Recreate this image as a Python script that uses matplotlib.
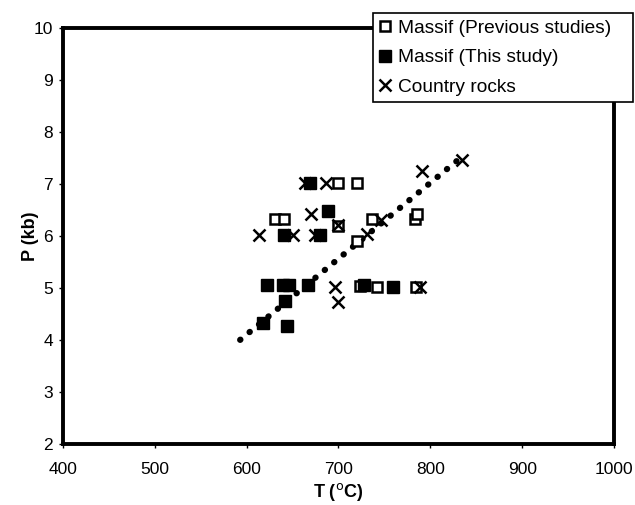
import matplotlib.pyplot as plt
from matplotlib.lines import Line2D

plt.rcParams['font.family'] = ['Liberation Sans', 'DejaVu Sans']

# Massif (previous studies) - open squares
prev_t = [631, 641, 700, 720, 700, 737, 720, 783, 785, 723, 742, 784]
prev_p = [6.32, 6.32, 7.02, 7.02, 6.18, 6.32, 5.9, 6.33, 6.42, 5.03, 5.02, 5.02]

# Massif (this study) - filled squares
this_t = [669, 689, 641, 680, 622, 640, 646, 667, 728, 759, 642, 618, 644]
this_p = [7.02, 6.47, 6.02, 6.02, 5.05, 5.05, 5.05, 5.05, 5.05, 5.02, 4.75, 4.33, 4.27]

# Country rocks - crosses
rock_t = [664, 686, 670, 700, 614, 650, 675, 746, 731, 696, 700, 789, 791, 834]
rock_p = [7.02, 7.02, 6.42, 6.2, 6.02, 6.02, 6.02, 6.3, 6.03, 5.02, 4.72, 5.02, 7.25, 7.45]

# dotted trend line
trend_t = [593, 833]
trend_p = [4.0, 7.5]

x_ticks = [400, 500, 600, 700, 800, 900, 1000]
y_ticks = [2, 3, 4, 5, 6, 7, 8, 9, 10]

fig = plt.figure(figsize=(6.35, 5.05), dpi=100)
ax = fig.add_axes([0.099, 0.121, 0.868, 0.824])

ax.plot(trend_t, trend_p, color='black', linewidth=4.5,
        linestyle=(0, (0.05, 1.9)), dash_capstyle='round', zorder=2)
ax.plot(prev_t, prev_p, 's', linestyle='None', markersize=7.8,
        markerfacecolor='white', markeredgecolor='black', markeredgewidth=1.8, zorder=3)
ax.plot(this_t, this_p, 's', linestyle='None', markersize=8.3,
        markerfacecolor='black', markeredgecolor='black', zorder=4)
ax.plot(rock_t, rock_p, 'x', linestyle='None', markersize=9,
        color='black', markeredgewidth=1.8, zorder=5)

ax.set_xlim(400, 1000)
ax.set_ylim(2, 10)
ax.set_xticks(x_ticks)
ax.set_yticks(y_ticks)
ax.tick_params(labelsize=12.5, length=3, width=1, direction='out')
ax.tick_params(axis='x', pad=10)
ax.tick_params(axis='y', pad=4)
for s in ax.spines.values():
    s.set_linewidth(2.8)

ax.set_xlabel('T ($^{\\mathrm{o}}$C)', fontsize=13, fontweight='bold', labelpad=3)
ax.set_ylabel('P (kb)', fontsize=13, fontweight='bold', labelpad=-4)

handles = [
    Line2D([], [], marker='s', linestyle='None', markersize=7.5, markerfacecolor='white',
           markeredgecolor='black', markeredgewidth=1.8),
    Line2D([], [], marker='s', linestyle='None', markersize=8.5, color='black'),
    Line2D([], [], marker='x', linestyle='None', markersize=8.5, color='black', markeredgewidth=1.8),
]
labels = ['Massif (Previous studies)', 'Massif (This study)', 'Country rocks']
leg = fig.legend(handles, labels, loc='upper left', mode='expand',
                 bbox_to_anchor=(373 / 635, 1 - 97 / 505, 260 / 635, 84 / 505),
                 fontsize=13.8, frameon=True, fancybox=False, framealpha=1,
                 edgecolor='black', handlelength=0.6, handletextpad=0.35,
                 labelspacing=0.62, borderpad=0.35, borderaxespad=0)
leg.get_frame().set_linewidth(1.2)

fig.savefig('out.png', dpi=100)
